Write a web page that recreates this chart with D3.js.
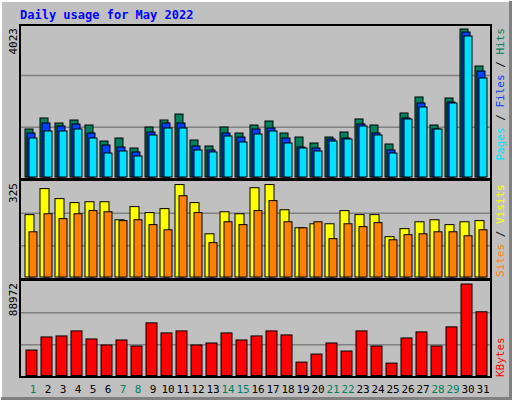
<!DOCTYPE html>
<html>
<head>
<meta charset="utf-8">
<script src="https://cdn.jsdelivr.net/npm/d3@7"></script>
<style>
  body { margin: 0; background: #fff; }
  svg text { font-family: "DejaVu Sans Mono", monospace; }
</style>
</head>
<body>
<div id="chart"></div>
<script>
const days = d3.range(1, 32);
const weekendDays = [1, 7, 8, 14, 15, 21, 22, 28, 29];

const hits = [1305,1604,1468,1549,1413,978,1060,788,1359,1549,1712,1006,843,1359,1196,1413,
  1522,1196,1087,924,1087,1223,1577,1413,897,1740,2175,1413,2147,4023,3017];
const files = [1196,1468,1386,1440,1196,870,815,680,1223,1468,1468,843,734,1196,1087,1305,
  1332,1060,815,788,1033,1060,1440,1196,734,1604,2011,1305,2039,3941,2881];
const pages = [1060,1250,1250,1305,1060,652,707,571,1142,1332,1332,734,680,1114,951,1169,
  1250,924,788,707,978,1033,1386,1142,652,1577,1903,1305,2011,3833,2691];

const visits = [218,309,274,260,263,263,200,246,225,239,323,260,151,228,221,312,
  323,235,172,186,186,232,218,218,141,169,193,200,183,193,197];
const sites = [158,221,204,221,232,228,197,200,183,165,284,225,120,193,183,232,
  267,193,172,193,134,186,176,190,130,148,151,158,158,144,165];

const kbytes = [24760,37480,38460,43360,35520,29650,34550,28680,51180,41400,43360,29650,31610,
  41400,34550,38460,43360,39440,13040,20860,31610,23790,43360,28680,12060,36510,42380,28680,
  47280,88972,61950];

const W = 512, H = 400;
const svg = d3.select("#chart").append("svg").attr("width", W).attr("height", H);

// outer 3d frame
svg.append("rect").attr("width", W).attr("height", H).attr("fill", "#c0c0c0");
svg.append("path").attr("d", `M0,${H} V0 H${W}`).attr("stroke", "#fff").attr("stroke-width", 4).attr("fill", "none");
svg.append("path").attr("d", `M1,${H - 1} H${W - 1} V1`).attr("stroke", "#808080").attr("stroke-width", 4).attr("fill", "none");

svg.append("text").attr("x", 20).attr("y", 19).text("Daily usage for May 2022")
  .attr("fill", "#0000ff").attr("font-weight", "bold").attr("font-size", 12);

const x = d3.scaleBand().domain(days).range([25, 490]).paddingInner(0).paddingOuter(0);
const left = 20, right = 491;

function panel(top, bottom, base, maxPx, maxVal, label) {
  svg.append("rect").attr("x", left).attr("y", top).attr("width", right - left).attr("height", bottom - top)
    .attr("fill", "#c0c0c0").attr("stroke", "#000").attr("stroke-width", 2);
  const y = d3.scaleLinear().domain([0, maxVal]).range([base, base - maxPx]);
  [0.336, 0.686].forEach(k => {
    svg.append("line").attr("x1", left + 1).attr("x2", right - 1)
      .attr("y1", y(maxVal * k)).attr("y2", y(maxVal * k)).attr("stroke", "#808080").attr("stroke-width", 1.5);
  });
  svg.append("text").attr("transform", `translate(17,${top + 3}) rotate(-90)`)
    .attr("text-anchor", "end").attr("font-size", 11).attr("fill", "#000").text(label);
  return y;
}

function bars(y, data, offset, width, color) {
  svg.append("g").selectAll("rect").data(data).enter().append("rect")
    .attr("x", (d, i) => x(days[i]) + offset)
    .attr("y", d => y(d))
    .attr("width", width)
    .attr("height", d => y(0) - y(d))
    .attr("fill", color).attr("stroke", "#000").attr("stroke-width", 1);
}

const y1 = panel(25, 179, 177, 148, 4023, "4023");
bars(y1, hits, 0, 8, "#00805c");
bars(y1, files, 2, 8, "#0040ff");
bars(y1, pages, 4, 8, "#00e0ff");

const y2 = panel(180, 279, 277, 93, 325, "325");
bars(y2, visits, 0, 9, "#ffff00");
bars(y2, sites, 4, 8, "#ff8000");

const y3 = panel(280, 377, 375.5, 91.5, 88972, "88972");
bars(y3, kbytes, 1, 11, "#ff0000");

// right side legends
function legend(parts, yPos, anchor) {
  const t = svg.append("text").attr("transform", `translate(504,${yPos}) rotate(-90)`)
    .attr("text-anchor", anchor).attr("font-size", 11);
  parts.forEach(p => t.append("tspan").attr("fill", p[1]).text(p[0]));
}
legend([["Pages", "#00e0ff"], [" / ", "#000"], ["Files", "#0040ff"], [" / ", "#000"], ["Hits", "#00805c"]], 28, "end");
legend([["Sites", "#ff8000"], [" / ", "#000"], ["Visits", "#ffff00"]], 277, "start");
legend([["KBytes", "#ff0000"]], 377, "start");

// day labels
svg.append("g").selectAll("text").data(days).enter().append("text")
  .attr("x", d => x(d) + 8).attr("y", 393).attr("text-anchor", "middle").attr("font-size", 11)
  .attr("fill", d => weekendDays.includes(d) ? "#00805c" : "#000").text(d => d);
</script>
</body>
</html>
